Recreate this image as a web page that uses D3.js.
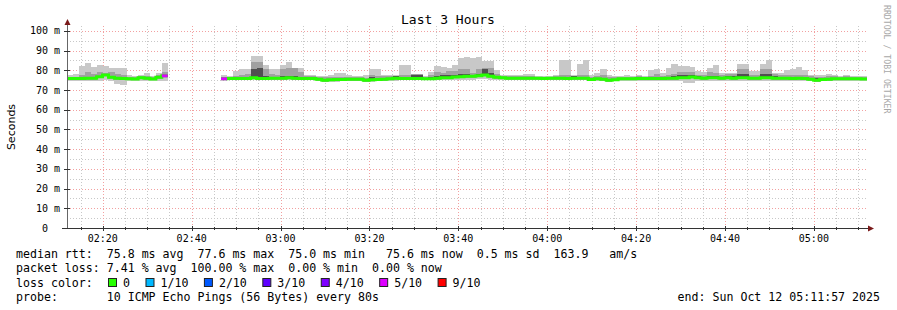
<!DOCTYPE html>
<html><head><meta charset="utf-8">
<script src="https://cdn.jsdelivr.net/npm/d3@7"></script>
<style>
body{margin:0;background:#fff}
svg text{font-family:"DejaVu Sans Mono",monospace;white-space:pre}
</style>
</head><body>
<svg id="chart" width="897" height="310"></svg>
<script>
// ---------------- data ----------------
const chartTitle = "Last 3 Hours";
const yAxisTitle = "Seconds";
const startTime = Date.UTC(2025, 9, 12, 2, 11, 57);
const stepSeconds = 80;
const yTickValues = [0, 10, 20, 30, 40, 50, 60, 70, 80, 90, 100];
const yTickLabels = ["0  ", "10 m", "20 m", "30 m", "40 m", "50 m", "60 m", "70 m", "80 m", "90 m", "100 m"];

const medianMs = [
 75.8,75.8,75.9,76.0,76.0,76.8,77.6,76.5,76.0,75.8,75.7,75.6,76.2,76.0,75.6,76.5,77.2,
 null,null,null,null,null,null,null,null,null,
 75.7,75.8,75.8,75.9,75.9,76.3,75.8,75.8,76.0,76.0,76.0,76.2,76.0,75.8,75.8,75.8,75.5,75.0,75.2,
 75.3,75.3,75.5,75.5,75.5,75.0,75.2,75.3,75.5,75.7,76.0,75.8,75.8,75.8,75.8,75.7,75.7,76.0,76.3,76.3,
 76.6,76.8,77.0,77.0,77.3,77.6,77.0,76.5,76.2,76.0,76.0,76.0,76.0,76.0,76.0,75.8,76.0,76.0,76.0,75.8,
 76.0,76.0,76.0,75.3,75.7,
 75.5,75.0,75.2,75.7,75.7,75.7,75.8,75.8,75.8,75.8,75.8,76.0,76.0,76.2,76.3,76.6,76.3,76.0,76.3,76.3,
 76.0,76.3,76.0,76.3,76.3,76.0,76.0,76.3,76.3,76.0,76.0,76.0,75.8,76.0,75.8,75.5,75.0,75.3,75.5,75.7,
 75.7,75.7,75.7,75.7,75.6
];
const lossTenths = [
 0,0,0,0,0,0,0,0,0,0,0,0,0,0,0,0,5,
 10,10,10,10,10,10,10,10,10,
 5,0,0,0,0,0,0,0,0,0,0,0,0,0,0,0,0,0,0,
 0,0,0,0,0,0,0,0,0,0,0,0,0,0,0,0,0,0,0,0,
 0,0,0,0,0,0,0,0,0,0,0,0,0,0,0,0,0,0,0,0,
 0,0,0,0,0,
 0,0,0,0,0,0,0,0,0,0,0,0,0,0,0,0,0,0,0,0,
 0,0,0,0,0,0,0,0,0,0,0,0,0,0,0,0,0,0,0,0,
 0,0,0,0,0
];
const smokeMaxMs = [
 77.6,78.2,82.3,83.7,81.7,82.9,82.2,81.4,81.4,81.4,77.8,77.2,77.8,78.8,77.2,78.8,83.5,
 null,null,null,null,null,null,null,null,null,
 77.8,77.2,79.5,80.5,80.5,87.3,87.3,82.9,80.5,80.5,82.6,84.1,81.2,81.2,77.8,77.8,77.2,77.2,77.8,
 78.8,78.8,77.8,77.2,77.2,77.8,80.8,80.8,77.8,77.8,77.8,82.9,82.9,78.3,78.3,77.2,79.2,82.2,81.7,81.2,
 82.6,86.3,86.8,86.3,86.8,84.6,84.6,80.0,77.8,77.5,77.5,77.8,78.3,78.3,77.2,77.2,77.2,77.8,85.1,85.1,
 77.8,83.4,85.1,77.8,78.8,
 80.5,77.8,77.2,77.2,77.8,77.2,77.8,77.2,80.0,80.9,78.8,81.2,83.4,82.2,82.2,81.7,79.5,79.2,81.2,82.9,
 78.8,78.8,78.8,83.4,83.4,79.5,79.5,83.4,85.1,78.8,78.8,80.0,80.5,81.7,80.0,77.8,77.8,77.8,78.3,77.8,
 77.2,77.8,77.2,77.2,77.2
];
const smokeMidMs = [
 76.6,76.8,77.8,79.0,78.0,79.0,78.8,79.2,78.0,77.5,76.6,76.5,77.0,77.2,76.5,77.5,79.0,
 null,null,null,null,null,null,null,null,null,
 76.8,76.5,77.0,77.8,78.0,84.2,84.2,80.5,78.0,77.8,80.5,81.2,81.2,79.0,77.0,77.0,76.6,76.5,76.5,
 76.5,76.8,76.6,76.5,76.5,76.3,77.5,77.3,77.0,77.0,77.2,77.8,77.8,78.0,78.0,76.8,77.8,79.2,78.8,79.5,
 79.5,80.5,80.5,78.8,80.5,81.2,81.2,78.3,77.2,77.0,77.0,77.0,77.2,77.2,76.8,76.8,76.8,77.0,77.8,77.5,
 77.2,77.5,77.5,76.8,77.0,
 77.8,76.5,76.5,76.6,76.8,76.6,77.0,76.8,77.0,78.3,77.2,77.8,78.3,79.2,79.2,79.2,77.8,77.5,79.2,78.8,
 77.8,78.3,78.3,80.5,80.5,77.8,77.5,80.5,80.5,78.3,77.5,77.5,77.5,77.8,77.5,77.2,76.8,76.8,77.0,77.0,
 76.8,77.0,76.8,76.8,76.8
];
const smokeInnerMs = [
 76.2,76.3,76.5,76.8,76.6,77.0,78.0,77.2,76.8,76.5,76.2,76.0,76.6,76.5,76.0,77.0,77.5,
 null,null,null,null,null,null,null,null,null,
 76.2,76.2,76.3,76.5,76.5,80.9,81.2,77.0,76.6,76.6,77.0,77.2,77.2,76.8,76.3,76.3,76.0,75.8,75.8,
 75.8,76.0,76.0,76.0,76.0,75.6,76.5,76.3,76.3,76.3,77.0,76.8,76.8,77.5,77.5,76.3,76.5,77.0,77.8,77.5,
 77.8,78.3,78.0,77.8,78.3,80.9,78.8,77.2,76.8,76.6,76.6,76.6,76.6,76.6,76.5,76.3,76.5,76.6,76.8,76.5,
 77.0,76.8,76.8,76.0,76.3,
 76.3,75.8,75.8,76.2,76.2,76.2,76.3,76.3,76.3,76.5,76.5,76.6,77.0,77.8,77.5,77.5,77.2,76.8,77.2,77.2,
 76.8,77.2,77.0,78.3,78.3,76.8,76.8,78.0,78.0,77.0,76.8,76.8,76.5,76.8,76.5,76.3,76.0,76.0,76.2,76.3,
 76.3,76.3,76.3,76.3,76.3
];
const smokeMinMs = [
 74.8,74.8,74.8,74.8,74.5,74.8,75.0,74.8,73.3,72.4,74.5,74.8,74.8,74.5,74.8,74.5,74.8,
 null,null,null,null,null,null,null,null,null,
 75.0,75.0,75.0,75.0,75.0,75.0,75.0,75.0,75.0,75.0,75.0,75.0,75.0,75.0,75.0,75.0,74.8,74.3,74.3,
 74.3,74.5,74.5,74.5,74.8,74.3,74.3,74.5,74.8,74.8,74.8,75.0,75.0,75.0,75.0,75.0,75.0,75.0,75.0,75.0,
 75.2,75.2,75.2,75.2,75.5,75.5,75.3,75.0,75.0,75.0,75.0,75.0,75.0,75.0,75.0,75.0,75.0,75.0,75.0,75.0,
 75.0,75.0,75.0,74.5,74.8,
 74.8,74.3,74.5,74.8,74.8,74.8,74.8,74.8,74.8,74.8,74.8,74.8,74.8,74.8,73.8,73.8,74.8,74.8,74.8,74.8,
 74.8,74.8,74.8,74.8,74.8,74.8,74.8,74.8,74.8,74.8,74.8,74.8,74.8,74.8,74.8,74.8,74.3,74.5,74.8,74.8,
 74.8,74.8,74.8,74.8,74.8
];

const lossLevels = [0, 1, 2, 3, 4, 5, 10];
const lossLabels = ["0", "1/10", "2/10", "3/10", "4/10", "5/10", "9/10"];
const lossColors = ["#26ff00", "#00b8ff", "#0059ff", "#5e00ff", "#7e00ff", "#dd00ff", "#ff0000"];

const rttStats = ["75.8 ms avg", "77.6 ms max", "75.0 ms min", "75.6 ms now", "0.5 ms sd", "163.9", "am/s"];
const lossStats = ["7.41 % avg", "100.00 % max", "0.00 % min", "0.00 % now"];
const probeText = "10 ICMP Echo Pings (56 Bytes) every 80s";
const endText = "end: Sun Oct 12 05:11:57 2025";
const watermark = "RRDTOOL / TOBI OETIKER";

// ---------------- drawing ----------------
const svg = d3.select("#chart");
const W = 897, H = 310;
svg.append("rect").attr("width", W).attr("height", H).attr("fill", "#fff");

const n = medianMs.length;
const times = d3.range(n + 1).map(i => new Date(startTime + i * stepSeconds * 1000));
const x = d3.scaleUtc().domain([times[0], times[n]]).range([67, 867]);
const y = d3.scaleLinear().domain([0, 102.5]).range([228, 26]);

const colorForLoss = l => {
  let idx = 0;
  lossLevels.forEach((lv, k) => { if (l >= lv) idx = k; });
  return lossColors[idx];
};

// grid
const grid = svg.append("g");
const minorX = x.ticks(d3.utcMinute.every(5));
const majorX = x.ticks(d3.utcMinute.every(20));
const majorSet = new Set(majorX.map(d => +d));
const minorY = d3.range(5, 101, 5).filter(v => v % 10 !== 0);

grid.selectAll(".mgx").data(minorX.filter(d => !majorSet.has(+d))).join("line")
  .attr("x1", d => Math.round(x(d)) + 0.5).attr("x2", d => Math.round(x(d)) + 0.5)
  .attr("y1", y(102.5)).attr("y2", y(0))
  .attr("stroke", "#c8c8c8").attr("stroke-dasharray", "1,2");
grid.selectAll(".mgy").data(minorY).join("line")
  .attr("x1", 67).attr("x2", 867)
  .attr("y1", d => Math.round(y(d)) + 0.5).attr("y2", d => Math.round(y(d)) + 0.5)
  .attr("stroke", "#c8c8c8").attr("stroke-dasharray", "1,2");
grid.selectAll(".Mgx").data(majorX).join("line")
  .attr("x1", d => Math.round(x(d)) + 0.5).attr("x2", d => Math.round(x(d)) + 0.5)
  .attr("y1", y(102.5)).attr("y2", y(0))
  .attr("stroke", "#f2a0a0").attr("stroke-dasharray", "1,2");
grid.selectAll(".Mgy").data(yTickValues.slice(1)).join("line")
  .attr("x1", 67).attr("x2", 867)
  .attr("y1", d => Math.round(y(d)) + 0.5).attr("y2", d => Math.round(y(d)) + 0.5)
  .attr("stroke", "#f2a0a0").attr("stroke-dasharray", "1,2");

// smoke
const idx = d3.range(n).filter(i => medianMs[i] !== null);
const smoke = svg.append("g").attr("shape-rendering", "crispEdges");
function band(lo, hi, color) {
  smoke.append("g").selectAll("rect").data(idx).join("rect")
    .attr("x", i => x(times[i]))
    .attr("width", i => x(times[i + 1]) - x(times[i]) + 0.3)
    .attr("y", i => y(hi(i)))
    .attr("height", i => Math.max(0, y(lo(i)) - y(hi(i))))
    .attr("fill", color);
}
band(i => smokeMinMs[i], i => smokeMaxMs[i], "#c8c8c8");
band(i => medianMs[i] - 0.7, i => smokeMidMs[i], "#a0a0a0");
band(i => medianMs[i] - 0.6, i => smokeInnerMs[i], "#505050");

// median line
const line = d3.line().x(d => x(d.t)).y(d => y(d.v)).curve(d3.curveStepAfter);
const runs = [];
let cur = null;
for (let i = 0; i < n; i++) {
  if (medianMs[i] === null) { cur = null; continue; }
  if (!cur) { cur = []; runs.push(cur); }
  cur.push({ t: times[i], v: medianMs[i], i });
}
const medG = svg.append("g").attr("fill", "none").attr("stroke-width", 3);
runs.forEach(r => {
  const pts = r.concat([{ t: times[r[r.length - 1].i + 1], v: r[r.length - 1].v }]);
  medG.append("path").attr("d", line(pts)).attr("stroke", lossColors[0]);
});
idx.filter(i => lossTenths[i] > 0).forEach(i => {
  medG.append("path")
    .attr("d", line([{ t: times[i], v: medianMs[i] }, { t: times[i + 1], v: medianMs[i] }]))
    .attr("stroke", colorForLoss(lossTenths[i]));
});

// axes
const axisColor = "#666";
svg.append("line").attr("x1", 67.5).attr("x2", 67.5).attr("y1", 228).attr("y2", 24).attr("stroke", axisColor);
svg.append("line").attr("x1", 62).attr("x2", 869).attr("y1", 228.5).attr("y2", 228.5).attr("stroke", "#333");
svg.append("path").attr("d", "M64.5,25 L70.5,25 L67.5,19 Z").attr("fill", "#7a1a1a");
svg.append("path").attr("d", "M868,225.5 L868,231.5 L874,228.5 Z").attr("fill", "#7a1a1a");
svg.selectAll(".yt").data(yTickValues).join("line")
  .attr("x1", 64).attr("x2", 70)
  .attr("y1", d => Math.round(y(d)) + 0.5).attr("y2", d => Math.round(y(d)) + 0.5)
  .attr("stroke", "#333");
svg.selectAll(".xt").data(majorX).join("line")
  .attr("x1", d => Math.round(x(d)) + 0.5).attr("x2", d => Math.round(x(d)) + 0.5)
  .attr("y1", 226).attr("y2", 231).attr("stroke", "#333");
svg.selectAll(".xtm").data(minorX.filter(d => !majorSet.has(+d))).join("line")
  .attr("x1", d => Math.round(x(d)) + 0.5).attr("x2", d => Math.round(x(d)) + 0.5)
  .attr("y1", 227).attr("y2", 230).attr("stroke", "#333");

// tick labels
svg.selectAll(".ylab").data(yTickValues).join("text")
  .attr("x", 60).attr("y", d => y(d) + 3.5).attr("text-anchor", "end")
  .attr("font-size", 10).attr("fill", "#000")
  .text((d, i) => yTickLabels[i]);
const fmt = d3.utcFormat("%H:%M");
svg.selectAll(".xlab").data(majorX).join("text")
  .attr("x", d => x(d)).attr("y", 242).attr("text-anchor", "middle")
  .attr("font-size", 10).attr("fill", "#000").text(d => fmt(d));

// titles
svg.append("text").attr("x", 448).attr("y", 24).attr("text-anchor", "middle")
  .attr("font-size", 13).attr("fill", "#000").text(chartTitle);
svg.append("text").attr("transform", "translate(15,127) rotate(-90)").attr("text-anchor", "middle")
  .attr("font-size", 11).style("font-family", "'DejaVu Sans',sans-serif").attr("fill", "#000").text(yAxisTitle);
svg.append("text").attr("transform", "translate(883.5,5) rotate(90)")
  .attr("font-size", 8.2).attr("fill", "#a8a8a8").text(watermark);

// legend
const lg = svg.append("g").attr("font-size", 11.6).attr("fill", "#000");
const x0 = 16;
lg.append("text").attr("x", x0).attr("y", 258)
  .text("median rtt:  " + rttStats[0] + "  " + rttStats[1] + "  " + rttStats[2] + "   " + rttStats[3] + "  " + rttStats[4] + "  " + rttStats[5] + "   " + rttStats[6]);
lg.append("text").attr("x", x0).attr("y", 272.3)
  .text("packet loss: " + lossStats[0] + "  " + lossStats[1] + "  " + lossStats[2] + "  " + lossStats[3]);
lg.append("text").attr("x", x0).attr("y", 286.6).text("loss color:");
let lx = 108;
lossLabels.forEach((lab, k) => {
  lg.append("rect").attr("x", lx + 0.5).attr("y", 278.5).attr("width", 8).attr("height", 8)
    .attr("fill", lossColors[k]).attr("stroke", "#222");
  const t = lg.append("text").attr("x", lx + 15).attr("y", 286.6).text(lab);
  lx = lx + 15 + t.node().getComputedTextLength() + 15.5;
});
lg.append("text").attr("x", x0).attr("y", 300.9).text("probe:       " + probeText);
lg.append("text").attr("x", 880).attr("y", 300.9).attr("text-anchor", "end").text(endText);
</script>
</body></html>
